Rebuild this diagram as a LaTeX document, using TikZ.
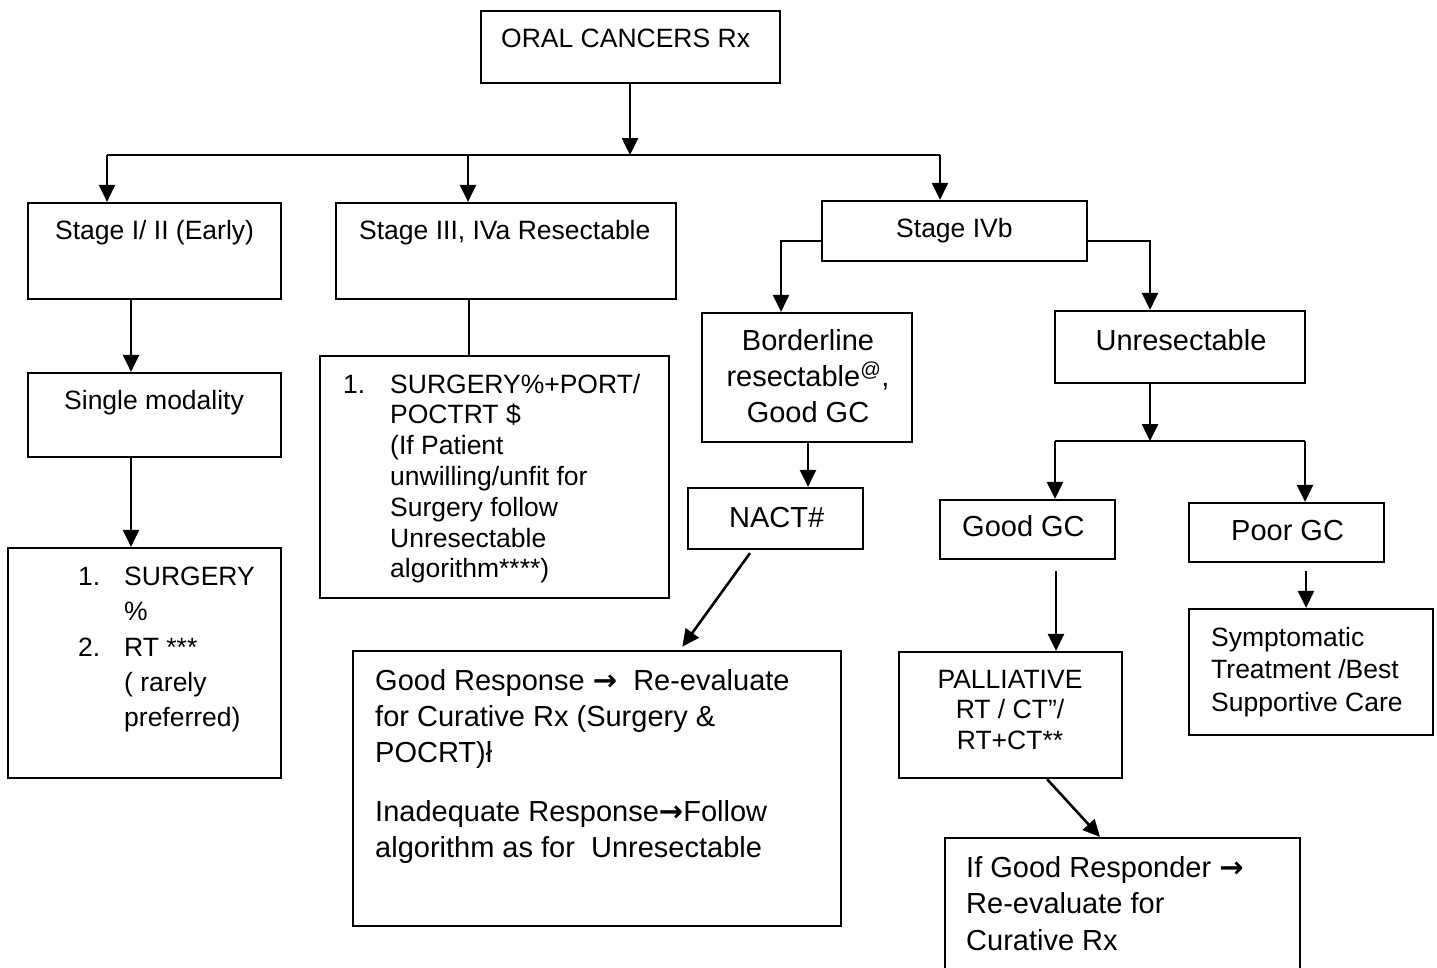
\documentclass[tikz,border=0pt]{standalone}
\usepackage{fontspec}
\setmainfont{Liberation Sans}
\newfontfamily\arrfont{DejaVu Sans}
\usetikzlibrary{arrows.meta,calc}
\newcommand\rarr{{\arrfont\bfseries →}}
\begin{document}
\begin{tikzpicture}[x=1pt,y=-1pt,
  box/.style={draw, line width=2.2pt, inner sep=0pt},
  arr/.style={line width=2.6pt, -{Triangle[length=17pt,width=16pt]}},
  ln/.style={line width=2.4pt},
  sm/.style={inner sep=0pt, font=\fontsize{26.5}{31}\selectfont, align=left},
  lg/.style={inner sep=0pt, font=\fontsize{29}{36}\selectfont, align=left}]
\useasboundingbox (0,0) rectangle (1437,967);
\clip (0,0) rectangle (1437,967);
% boxes
\node[box, minimum width=299pt, minimum height=72pt]  (oral)   at (630.5,47)  {};
\node[box, minimum width=253pt, minimum height=96pt]  (s1)     at (154.5,251) {};
\node[box, minimum width=340pt, minimum height=96pt]  (s2)     at (506,251)   {};
\node[box, minimum width=265pt, minimum height=60pt]  (s3)     at (954.5,231) {};
\node[box, minimum width=253pt, minimum height=84pt]  (single) at (154.5,415) {};
\node[box, minimum width=273pt, minimum height=230pt] (b1)     at (144.5,663) {};
\node[box, minimum width=349pt, minimum height=242pt] (b2)     at (494.5,477) {};
\node[box, minimum width=210pt, minimum height=129pt] (border) at (807,377.5) {};
\node[box, minimum width=175pt, minimum height=61pt]  (nact)   at (775.5,518.5) {};
\node[box, minimum width=488pt, minimum height=275pt] (resp)   at (597,788.5) {};
\node[box, minimum width=250pt, minimum height=72pt]  (unres)  at (1180,347)  {};
\node[box, minimum width=175pt, minimum height=59pt]  (goodgc) at (1027.5,529.5) {};
\node[box, minimum width=195pt, minimum height=59pt]  (poorgc) at (1286.5,532.5) {};
\node[box, minimum width=223pt, minimum height=126pt] (pall)   at (1010.5,715) {};
\node[box, minimum width=244pt, minimum height=126pt] (sympt)  at (1311,672)  {};
\node[box, minimum width=355pt, minimum height=162pt] (ifgood) at (1122.5,919) {};
% texts (multi-line nodes are anchored at the baseline of their last line)
\node[sm, anchor=base west] (t-oral) at (501,47) {ORAL CANCERS Rx};
\node[sm, anchor=base west] (t-s1) at (55,239) {Stage I/ II (Early)};
\node[sm, anchor=base west] (t-s2) at (359,239) {Stage III, IVa Resectable};
\node[sm, anchor=base west] (t-s3) at (896,237) {Stage IVb};
\node[sm, anchor=base west] (t-single) at (64,409) {Single modality};
\node[sm, anchor=base west] (t-n1) at (78,585) {1.};
\node[sm, anchor=base west, font=\fontsize{26.5}{35.5}\selectfont] (t-b1a) at (124,620.5) {SURGERY\\\%};
\node[sm, anchor=base west] (t-n2) at (78,656) {2.};
\node[sm, anchor=base west, font=\fontsize{26.5}{35}\selectfont] (t-b1b) at (124,726) {RT ***\\( rarely\\preferred)};
\node[sm, anchor=base west] (t-n3) at (343,393) {1.};
\node[sm, anchor=base west, font=\fontsize{26.5}{30.8}\selectfont] (t-b2) at (390,577.8)
  {SURGERY\%+PORT/\\POCTRT \$\\(If Patient\\unwilling/unfit for\\Surgery follow\\Unresectable\\algorithm****)};
\node[lg, anchor=base, align=center] (t-border) at (808,422) {Borderline\\resectable\textsuperscript{@},\\Good GC};
\node[lg, anchor=base west] (t-nact) at (729,527) {NACT\#};
\node[lg, anchor=base west] (t-resp) at (375,857)
  {Good Response \rarr\ \ Re-evaluate\\for Curative Rx (Surgery \&\\POCRT)ł\\[23pt]Inadequate Response\rarr Follow\\algorithm as for \ Unresectable};
\node[lg, anchor=base] (t-unres) at (1181,350) {Unresectable};
\node[lg, anchor=base west] (t-goodgc) at (962,536) {Good GC};
\node[lg, anchor=base west] (t-poorgc) at (1231,540) {Poor GC};
\node[sm, anchor=base, align=center, font=\fontsize{26.5}{30.5}\selectfont] (t-pall) at (1010,749) {PALLIATIVE\\RT / CT”/\\RT+CT**};
\node[sm, anchor=base west, font=\fontsize{26.5}{32.5}\selectfont] (t-sympt) at (1211,711) {Symptomatic\\Treatment /Best\\Supportive Care};
\node[lg, anchor=base west, font=\fontsize{29}{36.5}\selectfont] (t-ifgood) at (966,950) {If Good Responder \rarr\\Re-evaluate for\\Curative Rx};
% helper coordinates
\coordinate (bus) at (630,155);
\coordinate (bL) at (107,155);
\coordinate (bM) at (468,155);
\coordinate (bR) at (940,155);
\coordinate (x131) at (131,0);
\coordinate (x469) at (469,0);
\coordinate (y241) at (0,241);
\coordinate (x781) at (781,0);
\coordinate (x1150) at (1150,0);
\coordinate (x808) at (808,0);
\coordinate (x750) at (750,0);
\coordinate (x680) at (680,0);
\coordinate (bus2) at (1150,441);
\coordinate (gL) at (1055,441);
\coordinate (gR) at (1305,441);
\coordinate (x1056) at (1056,0);
\coordinate (x1047) at (1047,0);
\coordinate (x1100) at (1100,0);
\coordinate (x1306) at (1306,0);
% connectors
\draw[arr] (oral.south -| bus) -- (bus);
\draw[ln] (bL) -- (bR);
\draw[arr] (bL) -- (bL |- s1.north);
\draw[arr] (bM) -- (bM |- s2.north);
\draw[arr] (bR) -- (bR |- s3.north);
\draw[arr] (s1.south -| x131) -- (single.north -| x131);
\draw[arr] (single.south -| x131) -- (b1.north -| x131);
\draw[ln] (s2.south -| x469) -- (b2.north -| x469);
\draw[arr] (s3.west |- y241) -| (border.north -| x781);
\draw[arr] (s3.east |- y241) -| (unres.north -| x1150);
\draw[arr] (border.south -| x808) -- (nact.north -| x808);
\draw[arr, shorten >=4pt] ($(nact.south -| x750)+(0,3)$) -- (resp.north -| x680);
\draw[arr] (unres.south -| bus2) -- (bus2);
\draw[ln] (gL) -- (gR);
\draw[arr] (gL) -- (gL |- goodgc.north);
\draw[arr] (gR) -- (gR |- poorgc.north);
\draw[arr] ($(goodgc.south -| x1056)+(0,11)$) -- (pall.north -| x1056);
\draw[arr] (pall.south -| x1047) -- (ifgood.north -| x1100);
\draw[arr] ($(poorgc.south -| x1306)+(0,8)$) -- (sympt.north -| x1306);
\end{tikzpicture}
\end{document}
